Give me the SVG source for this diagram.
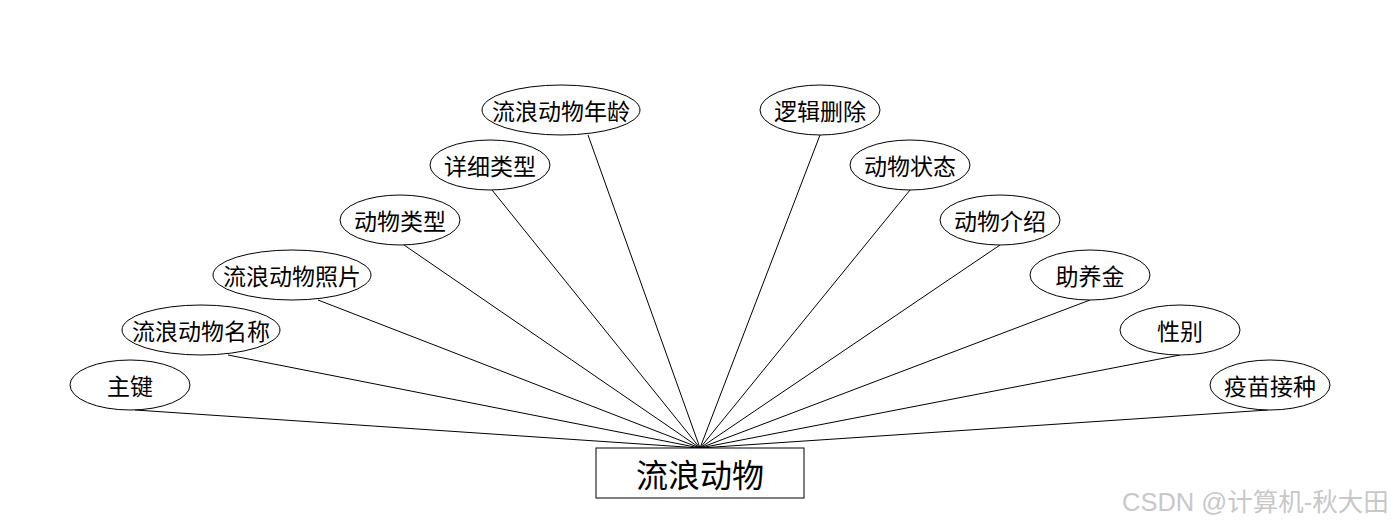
<svg xmlns="http://www.w3.org/2000/svg" width="1400" height="528" viewBox="0 0 1400 528">
<style>
.e{fill:#fff;stroke:#000;stroke-width:1}
.t{font-family:"Microsoft YaHei","Noto Sans CJK SC","Noto Sans",sans-serif;font-size:23px;fill:#000;text-anchor:middle;dominant-baseline:central}
.c line{stroke:#000;stroke-width:1}
.wm{font-family:"Liberation Sans","Noto Sans CJK SC",sans-serif;font-size:25.5px;fill:#c8c8c8}
</style>
<rect width="1400" height="528" fill="#fff"/>
<g id="connectors" class="c">
<line x1="135" y1="410" x2="700" y2="448"/>
<line x1="228" y1="355" x2="700" y2="448"/>
<line x1="318" y1="300" x2="700" y2="448"/>
<line x1="404" y1="245" x2="700" y2="448"/>
<line x1="492" y1="190" x2="700" y2="448"/>
<line x1="588" y1="135" x2="700" y2="448"/>
<line x1="820" y1="135" x2="700" y2="448"/>
<line x1="910" y1="190" x2="700" y2="448"/>
<line x1="1000" y1="245" x2="700" y2="448"/>
<line x1="1090" y1="300" x2="700" y2="448"/>
<line x1="1180" y1="355" x2="700" y2="448"/>
<line x1="1268" y1="410" x2="700" y2="448"/>
</g>
<g id="main">
<rect x="596" y="448" width="208" height="50" fill="#fff" stroke="#000" stroke-width="1"/>
<text x="700" y="473" class="t" style="font-size:32px">流浪动物</text>
</g>
<g id="n1"><ellipse class="e" cx="130" cy="385" rx="60" ry="25"/><text class="t" x="130" y="385">主键</text></g>
<g id="n2"><ellipse class="e" cx="201" cy="330" rx="79" ry="25"/><text class="t" x="201" y="330">流浪动物名称</text></g>
<g id="n3"><ellipse class="e" cx="292" cy="275" rx="79" ry="25"/><text class="t" x="292" y="275">流浪动物照片</text></g>
<g id="n4"><ellipse class="e" cx="400" cy="220" rx="60" ry="25"/><text class="t" x="400" y="220">动物类型</text></g>
<g id="n5"><ellipse class="e" cx="490" cy="165" rx="60" ry="25"/><text class="t" x="490" y="165">详细类型</text></g>
<g id="n6"><ellipse class="e" cx="561" cy="110" rx="79" ry="25"/><text class="t" x="561" y="110">流浪动物年龄</text></g>
<g id="n7"><ellipse class="e" cx="820" cy="110" rx="60" ry="25"/><text class="t" x="820" y="110">逻辑删除</text></g>
<g id="n8"><ellipse class="e" cx="910" cy="165" rx="60" ry="25"/><text class="t" x="910" y="165">动物状态</text></g>
<g id="n9"><ellipse class="e" cx="1000" cy="220" rx="60" ry="25"/><text class="t" x="1000" y="220">动物介绍</text></g>
<g id="n10"><ellipse class="e" cx="1090" cy="275" rx="60" ry="25"/><text class="t" x="1090" y="275">助养金</text></g>
<g id="n11"><ellipse class="e" cx="1180" cy="330" rx="60" ry="25"/><text class="t" x="1180" y="330">性别</text></g>
<g id="n12"><ellipse class="e" cx="1270" cy="385" rx="60" ry="25"/><text class="t" x="1270" y="385">疫苗接种</text></g>
<text class="wm" x="1122" y="511">CSDN @计算机-秋大田</text>
</svg>
